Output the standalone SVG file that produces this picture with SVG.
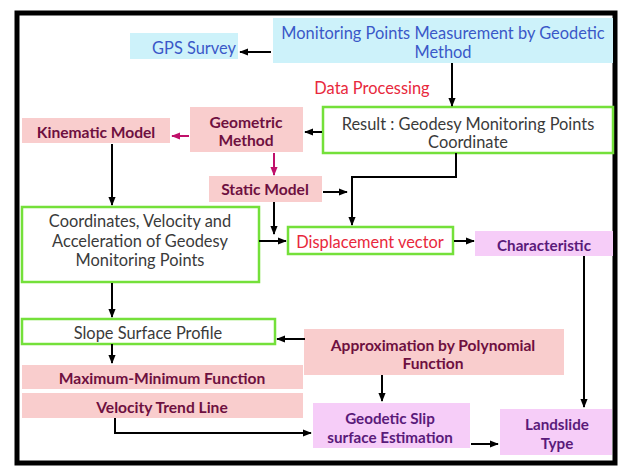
<svg xmlns="http://www.w3.org/2000/svg" width="621" height="467" viewBox="0 0 621 467">
<defs>
<marker id="ah" viewBox="0 0 10 10" refX="9" refY="5" markerWidth="4.5" markerHeight="4.5" orient="auto" markerUnits="strokeWidth"><path d="M0,1 L10,5 L0,9 Z" fill="#000"/></marker>
<marker id="ahm" viewBox="0 0 10 10" refX="9" refY="5" markerWidth="4.5" markerHeight="4.5" orient="auto" markerUnits="strokeWidth"><path d="M0,1 L10,5 L0,9 Z" fill="#c0106a"/></marker>
</defs>
<style>
text{font-family:Lato,"Open Sans","Liberation Sans",sans-serif;text-anchor:middle;dominant-baseline:central}
.cyan{fill:#cdf2fa}
.pink{fill:#f9cdcd}
.vio{fill:#f6cdf8}
.grn{fill:#fff;stroke:#74e03a;stroke-width:2.5}
.tb{fill:#3a58c8;font-size:16.4px}
.tg{fill:#3a3a3a;font-size:16.4px}
.tr{fill:#e8283c;font-size:16.4px}
.tm{fill:#6e1040;font-size:15.6px;font-weight:bold}
.tv{fill:#5a1a7a;font-size:15.2px;font-weight:bold}
.c{fill:none;stroke:#000;stroke-width:2}
.cm{fill:none;stroke:#c0106a;stroke-width:2}
</style>
<rect x="0" y="0" width="621" height="467" fill="#fff"/>
<rect x="17" y="13" width="598" height="450" fill="#fff" stroke="#000" stroke-width="5"/>

<g id="monitoring"><rect class="cyan" x="273" y="18" width="340" height="45"/><text class="tb" x="443" y="32">Monitoring Points Measurement  by Geodetic</text><text class="tb" x="443" y="51">Method</text></g>
<g id="gps"><rect class="cyan" x="130" y="33" width="108" height="26"/><text class="tb" x="194" y="47">GPS Survey</text></g>
<g id="dataproc"><text class="tr" x="372" y="87">Data Processing</text></g>
<g id="result"><rect class="grn" x="323" y="107" width="290" height="46"/><text class="tg" x="468" y="123">Result : Geodesy Monitoring Points</text><text class="tg" x="468" y="141">Coordinate</text></g>
<g id="geometric"><rect class="pink" x="190" y="107" width="113" height="45"/><text class="tm" x="246" y="122">Geometric</text><text class="tm" x="246" y="140">Method</text></g>
<g id="kinematic"><rect class="pink" x="22" y="118" width="148" height="25"/><text class="tm" x="96" y="132">Kinematic Model</text></g>
<g id="static"><rect class="pink" x="209" y="176" width="113" height="26"/><text class="tm" x="265" y="189">Static Model</text></g>
<g id="coords"><rect class="grn" x="22" y="207" width="237" height="75"/><text class="tg" x="140" y="220">Coordinates, Velocity and</text><text class="tg" x="140" y="240">Acceleration  of Geodesy</text><text class="tg" x="140" y="259">Monitoring Points</text></g>
<g id="displacement"><rect class="grn" x="288" y="227" width="165" height="27"/><text class="tr" x="370" y="241">Displacement  vector</text></g>
<g id="characteristic"><rect class="vio" x="475" y="231" width="138" height="25"/><text class="tv" x="544" y="245">Characteristic</text></g>
<g id="slope"><rect class="grn" x="22" y="319" width="253" height="25"/><text class="tg" x="148" y="332">Slope Surface Profile</text></g>
<g id="approx"><rect class="pink" x="304" y="329" width="260" height="46"/><text class="tm" x="433" y="345">Approximation by Polynomial</text><text class="tm" x="433" y="363">Function</text></g>
<g id="maxmin"><rect class="pink" x="22" y="365" width="281" height="24"/><text class="tm" x="162" y="378">Maximum-Minimum  Function</text></g>
<g id="velocity"><rect class="pink" x="22" y="393" width="281" height="25"/><text class="tm" x="162" y="407">Velocity Trend Line</text></g>
<g id="slip"><rect class="vio" x="313" y="403" width="157" height="45"/><text class="tv" x="390" y="418">Geodetic Slip</text><text class="tv" x="390" y="437">surface Estimation</text></g>
<g id="landslide"><rect class="vio" x="500" y="409" width="112" height="46"/><text class="tv" x="557" y="424">Landslide</text><text class="tv" x="557" y="443">Type</text></g>

<g id="connectors">
<path class="c" d="M271,52 H240" marker-end="url(#ah)"/>
<path class="c" d="M452,63 V106" marker-end="url(#ah)"/>
<path class="c" d="M322,132 H305" marker-end="url(#ah)"/>
<path class="cm" d="M189,136 H172" marker-end="url(#ahm)"/>
<path class="cm" d="M274,153 V175" marker-end="url(#ahm)"/>
<path class="c" d="M112,144 V205" marker-end="url(#ah)"/>
<path class="c" d="M323,192 H347" marker-end="url(#ah)"/>
<path class="c" d="M456,153 V177 H352 V225" marker-end="url(#ah)"/>
<path class="c" d="M274,202 V234" marker-end="url(#ah)"/>
<path class="c" d="M259,241 H286" marker-end="url(#ah)"/>
<path class="c" d="M454,241 H474" marker-end="url(#ah)"/>
<path class="c" d="M584,256 V407" marker-end="url(#ah)"/>
<path class="c" d="M112,283 V317" marker-end="url(#ah)"/>
<path class="c" d="M305,339 H277" marker-end="url(#ah)"/>
<path class="c" d="M112,344 V363" marker-end="url(#ah)"/>
<path class="c" d="M115,418 V433 H311" marker-end="url(#ah)"/>
<path class="c" d="M382,375 V401" marker-end="url(#ah)"/>
<path class="c" d="M471,444 H498" marker-end="url(#ah)"/>
</g>
</svg>
